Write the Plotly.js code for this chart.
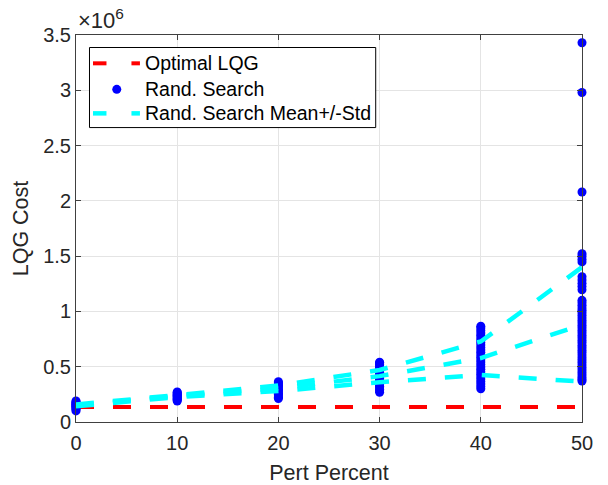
<!DOCTYPE html>
<html>
<head>
<meta charset="utf-8">
<script src="https://cdn.plot.ly/plotly-3.0.1.min.js"></script>
<style>html,body{margin:0;padding:0;background:#fff;}#plot{width:608px;height:485px;}</style>
</head>
<body>
<div id="plot"></div>
<script>
// Data (LQG cost in units of 1e6)
const pertPercent = [0, 10, 20, 30, 40, 50];
const optimalLQG = [0.136, 0.136, 0.136, 0.136, 0.136, 0.136];
const meanCost = [0.150, 0.235, 0.305, 0.415, 0.578, 0.880];
const meanPlusStd = [0.158, 0.245, 0.330, 0.470, 0.728, 1.400];
const meanMinusStd = [0.142, 0.225, 0.280, 0.360, 0.425, 0.365];

const search0 = [0.100, 0.112, 0.122, 0.130, 0.137, 0.143, 0.149, 0.155, 0.161, 0.167, 0.174, 0.182, 0.190];
const search10 = [0.190, 0.198, 0.206, 0.213, 0.220, 0.228, 0.235, 0.242, 0.250, 0.258, 0.266, 0.272];
const search20 = [0.212, 0.224, 0.236, 0.248, 0.260, 0.272, 0.284, 0.296, 0.308, 0.320, 0.332, 0.344, 0.356, 0.365];
const search30 = [0.268, 0.282, 0.296, 0.310, 0.324, 0.338, 0.352, 0.366, 0.380, 0.394, 0.408, 0.422, 0.436, 0.450, 0.464, 0.478, 0.492, 0.506, 0.520, 0.534, 0.540];
const search40 = [0.300, 0.322, 0.344, 0.366, 0.388, 0.410, 0.432, 0.454, 0.476, 0.498, 0.520, 0.542, 0.564, 0.586, 0.608, 0.630, 0.652, 0.674, 0.696, 0.718, 0.740, 0.762, 0.784, 0.806, 0.828, 0.850, 0.866];
const search50 = [3.430, 2.980, 2.080, 1.522, 1.498, 1.472, 1.448, 1.314, 1.285, 1.255, 1.225, 1.195,
  1.100, 1.078, 1.055, 1.032, 1.010, 0.988, 0.965, 0.942, 0.920, 0.898, 0.875, 0.852, 0.830, 0.808, 0.785,
  0.762, 0.740, 0.718, 0.695, 0.672, 0.650, 0.628, 0.605, 0.582, 0.560, 0.538, 0.515, 0.492, 0.470, 0.448,
  0.425, 0.402, 0.385, 0.370];
const searchSets = [search0, search10, search20, search30, search40, search50];

const xTickVals = [0, 10, 20, 30, 40, 50];
const yTickVals = [0, 0.5, 1, 1.5, 2, 2.5, 3, 3.5];
const yTickText = ['0', '0.5', '1', '1.5', '2', '2.5', '3', '3.5'];
const legendLabels = ['Optimal LQG', 'Rand. Search', 'Rand. Search Mean+/-Std'];

// Build scatter arrays
const sx = [], sy = [];
searchSets.forEach((set, i) => set.forEach(v => { sx.push(pertPercent[i]); sy.push(v); }));

// Mean +/- std as one trace with gaps
const stdX = [], stdY = [];
[meanPlusStd, meanCost, meanMinusStd].forEach((arr, k) => {
  if (k > 0) { stdX.push(null); stdY.push(null); }
  arr.forEach((v, i) => { stdX.push(pertPercent[i]); stdY.push(v); });
});

const font = 'Liberation Sans, Arial, Helvetica, sans-serif';
const textColor = '#262626';
const RED = '#ff0000', BLUE = '#0000ff', CYAN = '#00ffff';

const traces = [
  {
    x: pertPercent, y: optimalLQG, type: 'scatter', mode: 'lines', name: legendLabels[0],
    line: {color: RED, width: 4, dash: '18px,19px'}
  },
  {
    x: sx, y: sy, type: 'scatter', mode: 'markers', name: legendLabels[1],
    marker: {color: BLUE, size: 9, symbol: 'circle', line: {width: 0}},
    cliponaxis: false
  },
  {
    x: stdX, y: stdY, type: 'scatter', mode: 'lines', name: legendLabels[2],
    line: {color: CYAN, width: 4.5, dash: '18px,19px'}, connectgaps: false
  }
];

// pixel -> paper helpers (plot area geometry)
const M = {l: 76, r: 25.5, t: 35, b: 63.3};
const W = 608, H = 485;
const PW = W - M.l - M.r, PH = H - M.t - M.b;
const px = v => (v - M.l) / PW;
const py = v => (H - M.b - v) / PH;

// Manual legend (MATLAB style)
const legRows = [63.3, 89.3, 113.3];
const shapes = [
  {type: 'rect', xref: 'paper', yref: 'paper', x0: px(89.5), x1: px(376), y0: py(47.5), y1: py(127.5),
   line: {color: '#000000', width: 1}, fillcolor: '#ffffff', layer: 'above'}
];
[[0, RED, 4], [2, CYAN, 4.5]].forEach(([r, c, w]) => {
  shapes.push({type: 'line', xref: 'paper', yref: 'paper', x0: px(93), x1: px(106.5), y0: py(legRows[r]), y1: py(legRows[r]),
    line: {color: c, width: w}, layer: 'above'});
  shapes.push({type: 'line', xref: 'paper', yref: 'paper', x0: px(131.5), x1: px(140), y0: py(legRows[r]), y1: py(legRows[r]),
    line: {color: c, width: w}, layer: 'above'});
});
shapes.push({type: 'circle', xref: 'paper', yref: 'paper', x0: px(112.3), x1: px(121.3), y0: py(legRows[1] - 4.5), y1: py(legRows[1] + 4.5),
  line: {width: 0}, fillcolor: BLUE, layer: 'above'});

const annotations = legendLabels.map((t, i) => ({
  xref: 'paper', yref: 'paper', x: px(143.5), y: py(legRows[i]), xanchor: 'left', yanchor: 'middle',
  showarrow: false, text: t, font: {family: font, size: 19.5, color: '#000000'}
}));
annotations.push({
  xref: 'paper', yref: 'paper', x: 0, y: 1, xanchor: 'left', yanchor: 'bottom',
  xshift: 0, yshift: 0, showarrow: false,
  text: '×10<sup>6</sup>', font: {family: font, size: 22, color: textColor}
});

const axisCommon = {
  showline: true, linecolor: '#404040', linewidth: 1, mirror: 'ticks',
  ticks: 'inside', ticklen: 5, tickcolor: '#404040', tickwidth: 1,
  showgrid: true, gridcolor: '#e4e4e4', gridwidth: 1, zeroline: false,
  tickfont: {family: font, size: 20, color: textColor}
};

const layout = {
  width: W, height: H,
  margin: M,
  paper_bgcolor: '#ffffff', plot_bgcolor: '#ffffff',
  showlegend: false,
  xaxis: Object.assign({}, axisCommon, {
    range: [0, 50], tickvals: xTickVals, ticktext: xTickVals.map(String),
    ticklabelstandoff: 3,
    title: {text: 'Pert Percent', font: {family: font, size: 21.5, color: textColor}, standoff: 11}
  }),
  yaxis: Object.assign({}, axisCommon, {
    range: [0, 3.5], tickvals: yTickVals, ticktext: yTickText,
    title: {text: 'LQG Cost', font: {family: font, size: 21.5, color: textColor}, standoff: 8}
  }),
  shapes: shapes,
  annotations: annotations
};

Plotly.newPlot('plot', traces, layout, {displayModeBar: false, staticPlot: true});
</script>
</body>
</html>
